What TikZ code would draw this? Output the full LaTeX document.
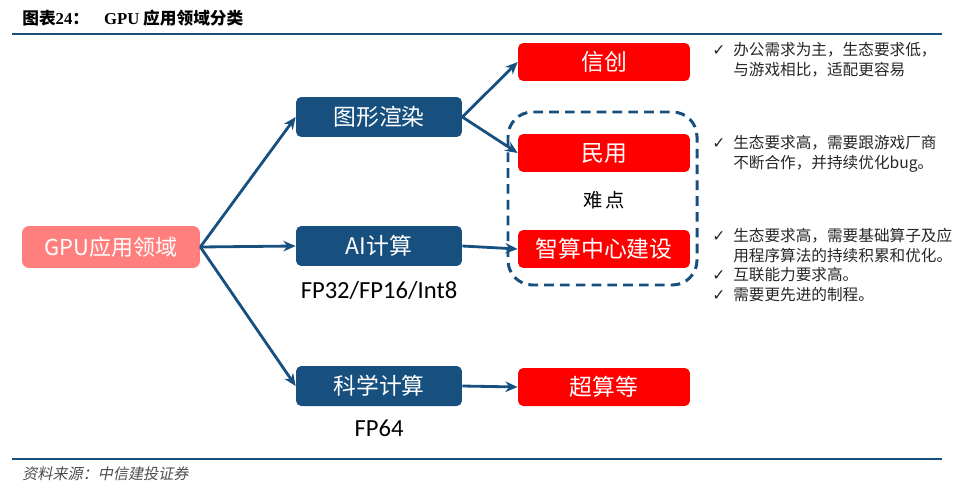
\documentclass[tikz,border=0pt]{standalone}
\usepackage{fontspec}
\setmainfont{Noto Sans CJK SC}
\newfontfamily\latinfont{Carlito}
\newfontfamily\serifbold{Liberation Serif}
\newfontfamily\slantfont[FakeSlant=0.2]{Noto Sans CJK SC}
\newfontfamily\symfont{DejaVu Sans}
\usetikzlibrary{arrows.meta}
\definecolor{darkblue}{HTML}{17507F}
\definecolor{salmon}{HTML}{FF7F7F}
\definecolor{brightred}{HTML}{FF0000}
\newcommand{\chk}{{\symfont ✓}\hspace{0.5em}}
\tikzset{
  bluebox/.style={fill=darkblue, text=white, rounded corners=3pt, minimum width=3.32cm, minimum height=0.8cm, font=\fontsize{13}{15}\selectfont},
  redbox/.style={fill=brightred, text=white, rounded corners=3pt, minimum width=3.44cm, minimum height=0.76cm, font=\fontsize{13}{15}\selectfont},
  rootbox/.style={fill=salmon, text=white, rounded corners=4pt, minimum width=3.56cm, minimum height=0.84cm, font=\fontsize{12.5}{15}\selectfont},
  link/.style={darkblue, line width=1.6pt, -{Stealth[length=7pt,width=6pt]}},
  note/.style={anchor=north west, align=left, inner sep=0pt, font=\fontsize{8.9}{11.2}\selectfont, text=black!85},
  sublabel/.style={font=\latinfont\fontsize{14}{16}\selectfont}
}
\begin{document}
\begin{tikzpicture}[x=0.02cm, y=-0.02cm]
		\useasboundingbox (0,0) rectangle (960,490);
		
		% Draw header and footer
		\node[anchor=west, inner sep=0pt, font=\bfseries\fontsize{9.5}{11}\selectfont] (title) at (22,18) {图表{\serifbold\bfseries 24}：\hspace{0.9em}{\serifbold\bfseries GPU} 应用领域分类};
		\draw[darkblue, line width=1.7pt] (12,34) -- (942,34);
		\draw[darkblue, line width=1.7pt] (12,459) -- (942,459);
		\node[anchor=west, inner sep=0pt, text=black!70, font=\slantfont\fontsize{8.6}{10}\selectfont] (source) at (22,474) {资料来源：中信建投证券};
		
		% Draw dashed frame
		\draw[darkblue, line width=1.7pt, dash pattern=on 5.5pt off 3.5pt, rounded corners=14pt] (508,112) rectangle (697,285);
		
		% Draw boxes
		\node[rootbox] (gpu) at (111,247) {GPU应用领域};
		\node[bluebox] (render) at (379,117) {图形渲染};
		\node[bluebox] (ai) at (379,246) {AI计算};
		\node[bluebox] (sci) at (379,386) {科学计算};
		\node[redbox] (xinchuang) at (604,62) {信创};
		\node[redbox] (civil) at (604,153) {民用};
		\node[redbox] (center) at (604,249) {智算中心建设};
		\node[redbox] (super) at (604,387) {超算等};
		
		% Draw labels
		\node[font=\fontsize{11}{13}\selectfont] (hard) at (604,200) {难\,点};
		\node[sublabel] (aiprec) at (379,290) {FP32/FP16/Int8};
		\node[sublabel] (sciprec) at (379,428) {FP64};
		
		% Draw arrows
		\coordinate (fork) at (gpu.east);
		\draw[link] (fork) -- (render.west);
		\draw[link] (fork) -- (ai.west);
		\draw[link] (fork) -- (sci.west);
		\draw[link] (render.east) -- (xinchuang.west);
		\draw[link] (render.east) -- (civil.west);
		\draw[link] (ai.east) -- (center.west);
		\draw[link] (sci.east) -- (super.west);
		
		% Draw notes
		\node[note] (note1) at (712,42) {\chk 办公需求为主，生态要求低，\\\hphantom{\chk}与游戏相比，适配更容易};
		\node[note] (note2) at (712,135) {\chk 生态要求高，需要跟游戏厂商\\\hphantom{\chk}不断合作，并持续优化bug。};
		\node[note] (note3) at (712,228) {\chk 生态要求高，需要基础算子及应\\\hphantom{\chk}用程序算法的持续积累和优化。\\\chk 互联能力要求高。\\\chk 需要更先进的制程。};
		
	\end{tikzpicture}
\end{document}
